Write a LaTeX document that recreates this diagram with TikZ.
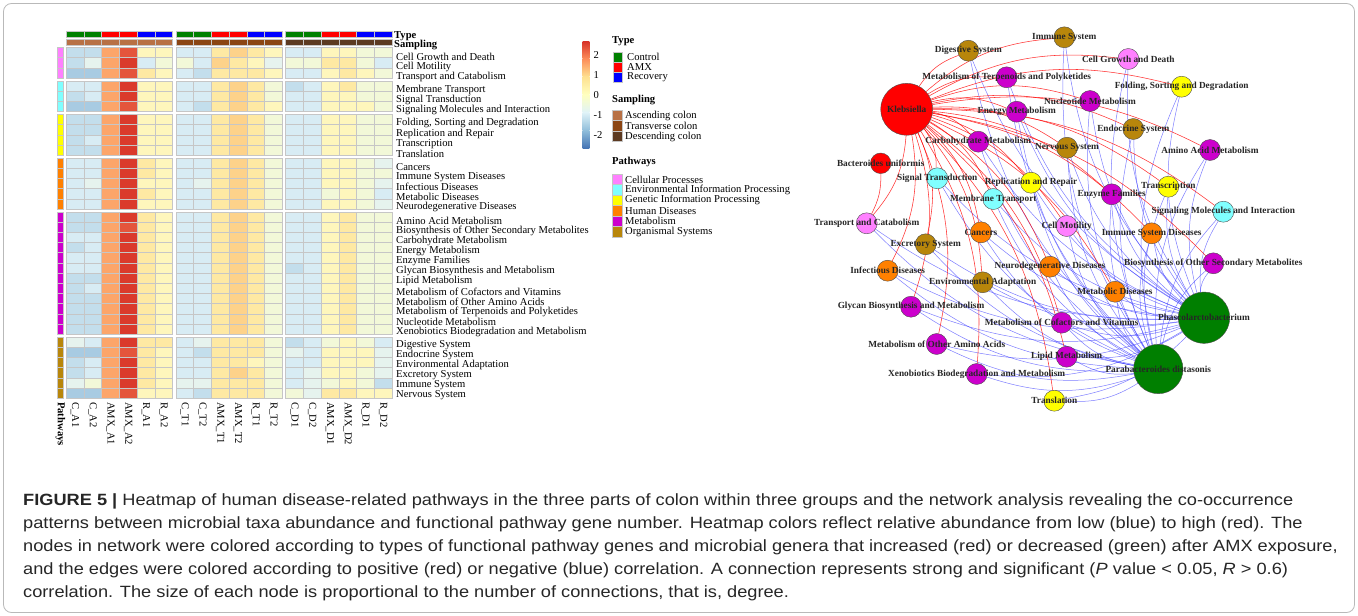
\documentclass[tikz,border=0pt]{standalone}
\usepackage{fontspec}
\usepackage{graphicx}
\setmainfont{Liberation Serif}
\newfontfamily\capfont{Liberation Sans}
\pgfdeclarelayer{edges}
\pgfsetlayers{edges,main}
% heatmap cell colours
\definecolor{hma}{HTML}{A8CBE2}
\definecolor{hmb}{HTML}{C3DEEC}
\definecolor{hmc}{HTML}{D8ECF4}
\definecolor{hmd}{HTML}{E6F3EE}
\definecolor{hme}{HTML}{F2F8D8}
\definecolor{hmf}{HTML}{FEF6BC}
\definecolor{hmg}{HTML}{FEE9A3}
\definecolor{hmh}{HTML}{FDD28A}
\definecolor{hmi}{HTML}{FCA56A}
\definecolor{hmj}{HTML}{E4553C}
\definecolor{hmk}{HTML}{DA3A2C}
% palette for colour bar
\definecolor{hb1}{HTML}{4575B4}
\definecolor{hb2}{HTML}{91BFDB}
\definecolor{hb3}{HTML}{E0F3F8}
\definecolor{hb4}{HTML}{FFFFBF}
\definecolor{hb5}{HTML}{FEE090}
\definecolor{hb6}{HTML}{FC8D59}
\definecolor{hb7}{HTML}{D73027}
% annotation colours
\definecolor{tctl}{HTML}{008000}
\definecolor{tamx}{HTML}{FF0000}
\definecolor{trec}{HTML}{0000FF}
\definecolor{samp0}{HTML}{B87145}
\definecolor{samp1}{HTML}{8B4513}
\definecolor{samp2}{HTML}{5C3A21}
\definecolor{pcol1}{HTML}{FF80FF}
\definecolor{pcol2}{HTML}{80FFFF}
\definecolor{pcol3}{HTML}{FFFF00}
\definecolor{pcol4}{HTML}{FF8000}
\definecolor{pcol5}{HTML}{CC00CC}
\definecolor{pcol6}{HTML}{B8860B}
\colorlet{cel}{pcol1}
\colorlet{env}{pcol2}
\colorlet{gen}{pcol3}
\colorlet{hum}{pcol4}
\colorlet{met}{pcol5}
\colorlet{org}{pcol6}
\definecolor{gred}{HTML}{FF0000}
\definecolor{ggreen}{HTML}{007F00}
\definecolor{bluedge}{HTML}{4646FF}
\newcommand{\capstretch}[1]{\scalebox{1.117}[1]{#1}}
\begin{document}
\begin{tikzpicture}[x=1pt,y=-1pt,
  rowlab/.style={anchor=west, inner sep=0pt, font=\fontsize{10.6}{11}\selectfont},
  boldlab/.style={anchor=west, inner sep=0pt, font=\fontsize{10.6}{11}\selectfont\bfseries},
  collab/.style={rotate=-90, anchor=west, inner sep=0pt, font=\fontsize{10.6}{11}\selectfont},
  hcell/.style={draw=gray!45, line width=0.5pt},
  legbox/.style={draw=gray!45, line width=0.4pt},
  pw/.style={circle, draw=gray!60!black, line width=0.4pt, minimum size=21pt, inner sep=0pt},
  genus/.style={circle, draw=gray!60!black, line width=0.4pt, inner sep=0pt},
  nlab/.style={font=\fontsize{9.3}{10}\selectfont\bfseries, inner sep=0pt, text=black!85},
  redge/.style={draw=gred, line width=0.55pt, opacity=0.8},
  bedge/.style={draw=bluedge, line width=0.5pt, opacity=0.7},
  capline/.style={anchor=base west, inner sep=0pt, font=\capfont\fontsize{16.3}{18}\selectfont, text=black!85}]
\useasboundingbox (0,0) rectangle (1358,616);
\draw[gray!55, line width=0.8pt, rounded corners=8pt] (3.5,3.5) rectangle (1354.5,612.5);

% ---------------- heatmap ----------------
\foreach \g/\lab/\codes [count=\r] in {
 1/Cell Growth and Death/{b,b,i,j,f,f,c,c,g,h,g,f,c,c,f,f,e,e},
 1/Cell Motility/{b,d,i,k,c,e,e,c,h,g,f,d,e,e,g,g,e,c},
 1/Transport and Catabolism/{a,a,i,j,g,f,c,b,g,g,g,f,c,c,f,g,f,e},
 2/Membrane Transport/{c,c,i,k,f,f,c,c,g,h,g,e,b,c,f,g,e,e},
 2/Signal Transduction/{b,c,i,k,f,f,c,c,g,h,g,e,c,c,f,f,e,e},
 2/Signaling Molecules and Interaction/{a,a,i,j,f,f,c,b,g,h,g,f,c,c,f,f,f,e},
 3/{Folding, Sorting and Degradation}/{b,b,i,k,f,f,c,c,g,h,g,e,c,c,f,f,e,e},
 3/Replication and Repair/{b,b,i,k,f,f,c,c,g,h,g,e,c,c,f,f,e,e},
 3/Transcription/{b,c,i,k,f,f,c,c,g,h,g,e,c,c,f,f,e,e},
 3/Translation/{b,b,i,k,f,f,c,c,g,h,g,e,c,c,f,f,e,e},
 4/Cancers/{c,c,i,k,g,f,c,c,g,h,g,e,c,c,f,f,e,d},
 4/Immune System Diseases/{c,c,i,k,g,f,c,c,g,h,g,e,c,c,f,f,e,e},
 4/Infectious Diseases/{c,d,i,k,f,f,c,d,g,h,g,e,c,c,f,f,e,d},
 4/Metabolic Diseases/{c,c,i,k,g,f,c,c,g,h,g,e,c,c,e,f,e,c},
 4/Neurodegenerative Diseases/{c,c,i,k,f,f,c,c,g,h,g,e,c,c,f,f,e,d},
 5/Amino Acid Metabolism/{b,b,i,k,g,f,c,c,g,h,g,e,c,c,f,g,e,e},
 5/Biosynthesis of Other Secondary Metabolites/{b,b,i,j,g,f,c,c,g,h,g,e,c,c,f,g,e,e},
 5/Carbohydrate Metabolism/{c,c,i,k,g,f,c,c,g,h,g,e,c,c,f,g,e,e},
 5/Energy Metabolism/{b,c,i,k,g,f,c,c,g,h,g,e,c,c,f,g,e,e},
 5/Enzyme Families/{c,c,i,k,g,f,c,c,g,h,g,e,c,c,f,g,e,e},
 5/Glycan Biosynthesis and Metabolism/{c,c,i,k,g,f,c,c,g,h,g,e,b,c,f,g,e,e},
 5/Lipid Metabolism/{b,b,i,k,g,f,c,c,g,h,g,e,c,c,f,g,e,e},
 5/Metabolism of Cofactors and Vitamins/{b,c,i,k,g,f,c,c,g,h,g,e,c,c,f,g,e,e},
 5/Metabolism of Other Amino Acids/{b,b,i,k,g,f,c,c,g,h,g,e,c,c,f,g,e,e},
 5/Metabolism of Terpenoids and Polyketides/{b,b,i,k,g,f,c,c,g,h,g,e,c,c,f,g,e,e},
 5/Nucleotide Metabolism/{b,b,i,k,g,f,c,c,g,h,g,e,c,c,f,g,e,e},
 5/Xenobiotics Biodegradation and Metabolism/{b,b,i,k,g,f,c,c,g,h,g,e,c,c,f,g,e,e},
 6/Digestive System/{d,c,i,k,g,g,c,d,g,g,g,e,b,c,e,f,e,c},
 6/Endocrine System/{a,a,i,j,g,f,c,b,g,g,g,e,d,c,f,f,f,d},
 6/Environmental Adaptation/{b,c,i,k,g,f,c,c,g,g,f,e,c,c,f,f,f,d},
 6/Excretory System/{b,c,i,k,g,f,c,c,g,h,g,e,c,d,f,f,e,d},
 6/Immune System/{d,e,i,k,g,f,d,d,g,g,g,e,c,d,e,f,e,b},
 6/Nervous System/{a,a,i,j,f,f,c,b,g,g,g,e,e,d,g,g,f,f}}{
  \pgfmathsetmacro\yy{47.5+(\r-1)*10.17+3*(\g-1)}
  \pgfmathsetmacro\ym{\yy+5.085+4.2-0.05*\r}
  \path[hcell, fill=pcol\g] (57,\yy) rectangle ++(6.6,10.17);
  \foreach \c [count=\k] in \codes {
    \pgfmathsetmacro\xx{66+(\k-1)*17.75+3.3*floor((\k-1)/6)}
    \path[hcell, fill=hm\c] (\xx,\yy) rectangle ++(17.75,10.17);
  }
  \node[rowlab] (rl\r) at (396,\ym) {\lab};
}
% annotation bars and column labels
\foreach \cl [count=\k] in {C\_A1,C\_A2,AMX\_A1,AMX\_A2,R\_A1,R\_A2,C\_T1,C\_T2,AMX\_T1,AMX\_T2,R\_T1,R\_T2,C\_D1,C\_D2,AMX\_D1,AMX\_D2,R\_D1,R\_D2}{
  \pgfmathsetmacro\xx{66+(\k-1)*17.75+3.3*floor((\k-1)/6)}
  \pgfmathsetmacro\xc{\xx+8.875}
  \pgfmathtruncatemacro\m{mod(\k-1,6)}
  \pgfmathtruncatemacro\gg{floor((\k-1)/6)}
  \ifnum\m<2 \def\tc{tctl}\else\ifnum\m<4 \def\tc{tamx}\else\def\tc{trec}\fi\fi
  \path[hcell, fill=\tc] (\xx,31) rectangle ++(17.75,6.7);
  \path[hcell, fill=samp\gg] (\xx,39) rectangle ++(17.75,6.7);
  \node[collab] (cl\k) at (\xc,402) {\cl};
}
\node[collab, font=\fontsize{10.6}{11}\selectfont\bfseries] (clp) at (60.3,402) {Pathways};
\node[boldlab] (ltype) at (394,36.5) {Type};
\node[boldlab] (lsamp) at (394,45) {Sampling};

% ---------------- legends ----------------
\shade[top color=hb7, bottom color=hb6] (582.7,41) rectangle (589.3,58.9);
\shade[top color=hb6, bottom color=hb5] (582.7,58.8) rectangle (589.3,76.7);
\shade[top color=hb5, bottom color=hb4] (582.7,76.6) rectangle (589.3,94.6);
\shade[top color=hb4, bottom color=hb3] (582.7,94.5) rectangle (589.3,112.4);
\shade[top color=hb3, bottom color=hb2] (582.7,112.3) rectangle (589.3,130.2);
\shade[top color=hb2, bottom color=hb1] (582.7,130.1) rectangle (589.3,148);
\foreach \v/\t in {2/2,1/1,0/0,-1/-1,-2/-2}{
  \pgfmathsetmacro\yv{95-19.8*\v}
  \node[rowlab] (tick\v) at (593.5,\yv) {\t};
}
\node[boldlab] (htype) at (612,41) {Type};
\foreach \c/\t [count=\i] in {tctl/Control,tamx/AMX,trec/Recovery}{
  \pgfmathsetmacro\yb{51.7+(\i-1)*10}
  \path[legbox, fill=\c] (612.7,\yb) rectangle ++(9.3,10);
  \node[rowlab] (lt\i) at (627,\yb+5.5) {\t};
}
\node[boldlab] (hsamp) at (612,100) {Sampling};
\foreach \c/\t [count=\i] in {samp0/Ascending colon,samp1/Transverse colon,samp2/Descending colon}{
  \pgfmathsetmacro\yb{110+(\i-1)*10.5}
  \path[legbox, fill=\c] (611.7,\yb) rectangle ++(10.3,10.5);
  \node[rowlab] (ls\i) at (625,\yb+5.5) {\t};
}
\node[boldlab] (hpath) at (612,161.5) {Pathways};
\foreach \c/\t [count=\i] in {pcol1/Cellular Processes,pcol2/Environmental Information Processing,pcol3/Genetic Information Processing,pcol4/Human Diseases,pcol5/Metabolism,pcol6/Organismal Systems}{
  \pgfmathsetmacro\yb{174+(\i-1)*10.45}
  \path[legbox, fill=\c] (611.7,\yb) rectangle ++(10.3,10.45);
  \node[rowlab] (lp\i) at (625,\yb+5.5) {\t};
}

% ---------------- network ----------------
\def\pwlist{dig/968.3/50.7/org/Digestive System,
ims/1064.3/37.3/org/Immune System,
ter/1006.7/77.3/met/Metabolism of Terpenoids and Polyketides,
cgd/1128.3/59/cel/Cell Growth and Death,
fsd/1181.7/86.7/gen/{Folding, Sorting and Degradation},
nuc/1090/101/met/Nucleotide Metabolism,
ene/1016.7/111.7/met/Energy Metabolism,
end/1133.3/129/org/Endocrine System,
car/978.3/141.7/met/Carbohydrate Metabolism,
ner/1067/147.7/org/Nervous System,
ami/1210/150/met/Amino Acid Metabolism,
sig/937.3/178.3/env/Signal Transduction,
rep/1031/182.7/gen/Replication and Repair,
trc/1168.3/186.7/gen/Transcription,
enz/1111.7/194.3/met/Enzyme Families,
mem/993.3/199/env/Membrane Transport,
smi/1223.3/211.7/env/Signaling Molecules and Interaction,
tca/866.7/223.3/cel/Transport and Catabolism,
cmo/1066.7/226/cel/Cell Motility,
can/981/232.3/hum/Cancers,
isd/1151.7/233.3/hum/Immune System Diseases,
exc/925.7/244.3/org/Excretory System,
bos/1213.3/263.3/met/Biosynthesis of Other Secondary Metabolites,
inf/887.7/270.7/hum/Infectious Diseases,
neu/1050/266.7/hum/Neurodegenerative Diseases,
ena/982.7/282.3/org/Environmental Adaptation,
mdi/1115/291.7/hum/Metabolic Diseases,
gly/911/306.7/met/Glycan Biosynthesis and Metabolism,
cof/1061.7/322.7/met/Metabolism of Cofactors and Vitamins,
oaa/936.7/344/met/Metabolism of Other Amino Acids,
lip/1066.7/356.7/met/Lipid Metabolism,
xen/976.7/374/met/Xenobiotics Biodegradation and Metabolism,
tra/1054.3/400.7/gen/Translation}

\node[genus, fill=gred, minimum size=52pt] (kle) at (906.7,109.3) {};
\node[genus, fill=gred, minimum size=20.6pt] (bun) at (880.7,163.3) {};
\node[genus, fill=ggreen, minimum size=51.4pt] (pha) at (1204,317.7) {};
\node[genus, fill=ggreen, minimum size=49.4pt] (par) at (1158.3,369) {};
\foreach \id/\x/\y/\c/\t in \pwlist {
  \node[pw, fill=\c] (\id) at (\x,\y) {};
}
\begin{pgfonlayer}{edges}
\foreach \id/\x/\y/\c/\t in \pwlist {
  \draw[redge] (kle) to[bend left=18] (\id);
  \draw[bedge] (pha) to[bend left=18] (\id);
  \draw[bedge] (par) to[bend left=18] (\id);
}
\draw[redge] (bun) to[bend left=14] (tca);
\end{pgfonlayer}
\foreach \id/\x/\y/\c/\t in \pwlist {
  \node[nlab] (\id-t) at (\id) {\t};
}
\node[nlab] (kle-t) at (kle) {Klebsiella};
\node[nlab] (bun-t) at (bun) {Bacteroides uniformis};
\node[nlab] (pha-t) at (pha) {Phascolarctobacterium};
\node[nlab] (par-t) at (par) {Parabacteroides distasonis};

% ---------------- caption ----------------
\node[capline] (cap1) at (23,505) {\capstretch{\textbf{FIGURE 5 |} Heatmap of human disease-related pathways in the three parts of colon within three groups and the network analysis revealing the co-occurrence}};
\node[capline] (cap2) at (23,528) {\capstretch{patterns between microbial taxa abundance and functional pathway gene number. Heatmap colors reflect relative abundance from low (blue) to high (red). The}};
\node[capline] (cap3) at (23,551) {\capstretch{nodes in network were colored according to types of functional pathway genes and microbial genera that increased (red) or decreased (green) after AMX exposure,}};
\node[capline] (cap4) at (23,574) {\capstretch{and the edges were colored according to positive (red) or negative (blue) correlation. A connection represents strong and significant (\textit{P} value < 0.05, \textit{R} > 0.6)}};
\node[capline] (cap5) at (23,597) {\capstretch{correlation. The size of each node is proportional to the number of connections, that is, degree.}};
\end{tikzpicture}
\end{document}
